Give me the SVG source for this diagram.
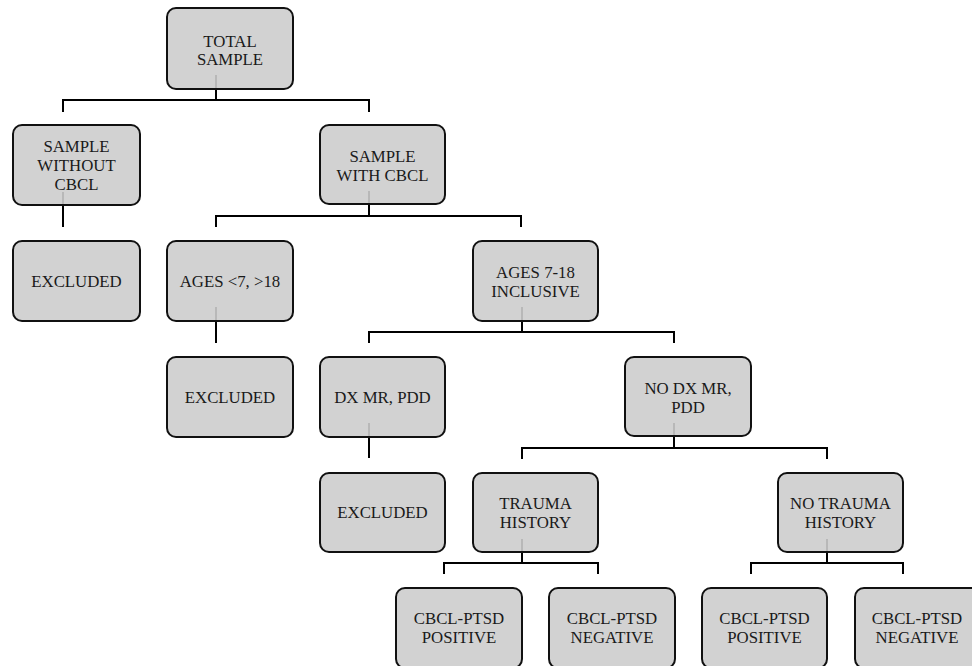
<svg xmlns="http://www.w3.org/2000/svg" width="972" height="666" viewBox="0 0 972 666">
<style>
.box{fill:#d2d2d2;stroke:#111;stroke-width:2}
.t{font-family:"Liberation Serif","Times New Roman",serif;font-size:16.8px;fill:#1a1a1a;text-anchor:middle}
.c{fill:none;stroke:#000;stroke-width:2}
.g{stroke:#b8b8b8;stroke-width:2}
</style>
<rect width="972" height="666" fill="#fff"/>
<g id="connectors">
<path class="c" d="M216 89V100M63 112V100H369V112"/>
<path class="c" d="M63 205V227"/>
<path class="c" d="M369 204V216M216 227V216H521V227"/>
<path class="c" d="M216 321V343"/>
<path class="c" d="M522 321V332M369 343V332H674V343"/>
<path class="c" d="M369 437V458"/>
<path class="c" d="M674 437V448M522 459V448H827V459"/>
<path class="c" d="M522 552V563M444 574V563H598V574"/>
<path class="c" d="M827 552V563M751 574V563H903V574"/>
</g>
<g id="total"><rect class="box" x="167" y="8" width="126" height="81" rx="9"/><line class="g" x1="216" y1="75" x2="216" y2="88"/><text class="t" x="230" y="46.5">TOTAL</text><text class="t" x="230" y="65">SAMPLE</text></g>
<g id="without"><rect class="box" x="13" y="125" width="127" height="80" rx="9"/><line class="g" x1="63" y1="192" x2="63" y2="204"/><text class="t" x="76.5" y="151.5">SAMPLE</text><text class="t" x="76.5" y="170.5">WITHOUT</text><text class="t" x="76.5" y="189.5">CBCL</text></g>
<g id="with"><rect class="box" x="320" y="125" width="125" height="79" rx="9"/><line class="g" x1="369" y1="191" x2="369" y2="203"/><text class="t" x="382.5" y="161.5">SAMPLE</text><text class="t" x="382.5" y="180.5">WITH CBCL</text></g>
<g id="excluded1"><rect class="box" x="13" y="241" width="127" height="80" rx="9"/><text class="t" x="76.5" y="287">EXCLUDED</text></g>
<g id="ages_lt7"><rect class="box" x="167" y="241" width="126" height="80" rx="9"/><line class="g" x1="216" y1="307" x2="216" y2="320"/><text class="t" x="230" y="287">AGES &lt;7, &gt;18</text></g>
<g id="ages7_18"><rect class="box" x="473" y="241" width="125" height="80" rx="9"/><line class="g" x1="522" y1="307" x2="522" y2="320"/><text class="t" x="535.5" y="277.5">AGES 7-18</text><text class="t" x="535.5" y="296.5">INCLUSIVE</text></g>
<g id="excluded2"><rect class="box" x="167" y="357" width="126" height="80" rx="9"/><text class="t" x="230" y="403">EXCLUDED</text></g>
<g id="dx"><rect class="box" x="320" y="357" width="125" height="80" rx="9"/><line class="g" x1="369" y1="423" x2="369" y2="436"/><text class="t" x="382.5" y="403">DX MR, PDD</text></g>
<g id="nodx"><rect class="box" x="625" y="357" width="126" height="79" rx="9"/><line class="g" x1="674" y1="423" x2="674" y2="435"/><text class="t" x="688" y="393.5">NO DX MR,</text><text class="t" x="688" y="412.5">PDD</text></g>
<g id="excluded3"><rect class="box" x="320" y="473" width="125" height="79" rx="9"/><text class="t" x="382.5" y="518">EXCLUDED</text></g>
<g id="trauma"><rect class="box" x="473" y="473" width="125" height="79" rx="9"/><line class="g" x1="522" y1="539" x2="522" y2="551"/><text class="t" x="535.5" y="508.5">TRAUMA</text><text class="t" x="535.5" y="527.5">HISTORY</text></g>
<g id="notrauma"><rect class="box" x="778" y="473" width="125" height="79" rx="9"/><line class="g" x1="827" y1="539" x2="827" y2="551"/><text class="t" x="840.5" y="508.5">NO TRAUMA</text><text class="t" x="840.5" y="527.5">HISTORY</text></g>
<g id="pos1"><rect class="box" x="396" y="588" width="126" height="80" rx="9"/><text class="t" x="459" y="623.5">CBCL-PTSD</text><text class="t" x="459" y="642.5">POSITIVE</text></g>
<g id="neg1"><rect class="box" x="549" y="588" width="126" height="80" rx="9"/><text class="t" x="612" y="623.5">CBCL-PTSD</text><text class="t" x="612" y="642.5">NEGATIVE</text></g>
<g id="pos2"><rect class="box" x="702" y="588" width="125" height="80" rx="9"/><text class="t" x="764.5" y="623.5">CBCL-PTSD</text><text class="t" x="764.5" y="642.5">POSITIVE</text></g>
<g id="neg2"><rect class="box" x="855" y="588" width="126" height="80" rx="9"/><text class="t" x="917" y="623.5">CBCL-PTSD</text><text class="t" x="917" y="642.5">NEGATIVE</text></g>
</svg>
